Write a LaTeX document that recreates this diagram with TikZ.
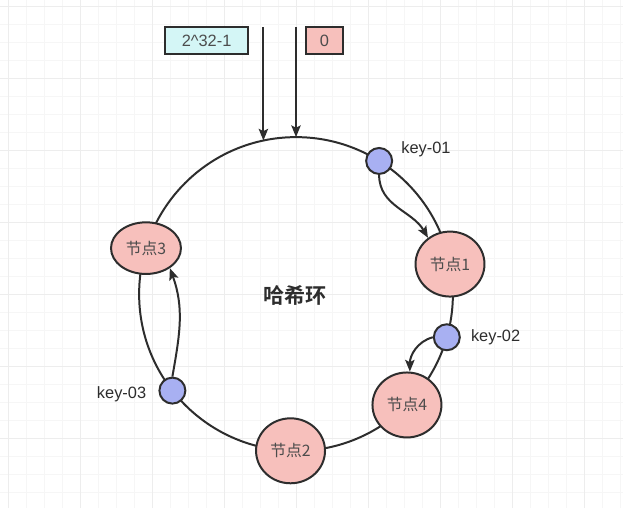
\documentclass[tikz,border=0pt]{standalone}
\usepackage{fontspec}
\setmainfont{Liberation Sans}
\newfontfamily\cjk{Noto Sans CJK SC}[BoldFont={Noto Sans CJK SC Bold}]
\usetikzlibrary{positioning,arrows.meta,shapes.geometric}
\definecolor{ring-line}{RGB}{45,45,45}
\definecolor{node-pink}{RGB}{247,192,188}
\definecolor{key-blue}{RGB}{168,176,242}
\definecolor{box-cyan}{RGB}{212,246,246}
\begin{document}
\begin{tikzpicture}[x=0.03cm, y=0.03cm,
          hashnode/.style={
            ellipse, draw=ring-line, fill=node-pink, line width=1.7pt,
            minimum width=2.07cm, minimum height=1.95cm, inner sep=0pt,
            font=\cjk\fontsize{13.5}{15}\selectfont, text=ring-line!85},
          keynode/.style={
            circle, draw=ring-line, fill=key-blue, line width=1.7pt,
            minimum size=0.78cm, inner sep=0pt},
          keytext/.style={
            font=\fontsize{14}{16}\selectfont, text=ring-line, inner sep=0pt},
          valbox/.style={
            draw=ring-line, line width=1.3pt, minimum height=0.81cm,
            inner sep=0pt, font=\fontsize{14}{16}\selectfont, text=ring-line!85},
          arr/.style={-{Stealth[length=10pt,width=8pt,inset=2pt]}, ring-line, line width=1.7pt}
        ]
        \fill[white] (-296,-214) rectangle (327,294);
        \draw[gray!7, step=0.54cm] (-296,-214) grid (327,294);
        \draw[gray!14, step=2.16cm] (-296,-214) grid (327,294);
        \useasboundingbox (-296,-214) rectangle (327,294);
        \node[circle, draw=ring-line, line width=1.7pt, minimum size=9.42cm,
          inner sep=0pt, outer sep=0pt] (ring) at (0,0) {};
        \node[font=\cjk\bfseries\fontsize{18}{20}\selectfont, text=ring-line]
          (title) at (-1,-1) {哈希环};
        \node[valbox, fill=box-cyan, minimum width=2.49cm] (maxval)
          at (-89.5,253.5) {2\textasciicircum 32-1};
        \node[valbox, fill=node-pink, minimum width=1.11cm] (zero)
          at (28.5,253.5) {0};
        \coordinate (feed) at (0,267);
        \node[keynode] (key1) at (ring.58) {};
        \node[hashnode] (node1) at (ring.11) {节点1};
        \node[keynode] (key2) at (ring.-16) {};
        \node[hashnode] (node4) at (ring.-45) {节点4};
        \node[hashnode] (node2) at (ring.-92) {节点2};
        \node[keynode] (key3) at (ring.-142) {};
        \node[hashnode, minimum width=2.1cm, minimum height=1.55cm] (node3)
          at (ring.163) {节点3};
        \node[keytext, right=0.24cm of key1, yshift=0.36cm] (key1text) {key-01};
        \node[keytext, right=0.3cm of key2] (key2text) {key-02};
        \node[keytext, left=0.36cm of key3, yshift=-0.12cm] (key3text) {key-03};
        \draw[arr] (ring.102 |- feed) -- (ring.102);
        \draw[arr] (ring.90 |- feed) -- (ring.90);
        \draw[arr] (key1.south) to[out=-90, in=120] (node1.130);
        \draw[arr] (key2.west) to[out=195, in=90] (node4.85);
        \draw[arr] (key3.north) to[out=80, in=-70] (node3.-40);
      \end{tikzpicture}
\end{document}
